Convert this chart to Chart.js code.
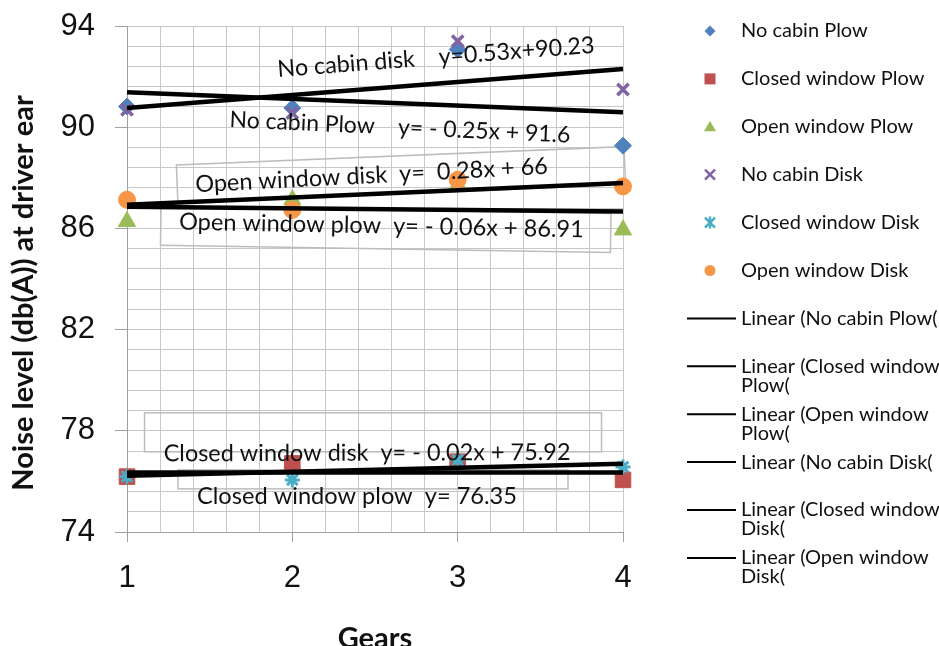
<!DOCTYPE html>
<html>
<head>
<meta charset="utf-8">
<script src="https://cdn.jsdelivr.net/npm/chart.js@4/dist/chart.umd.min.js"></script>
<style>
  html, body { margin: 0; padding: 0; background: #fff; }
  canvas { display: block; }
</style>
</head>
<body>
<canvas id="chart" width="939" height="646"></canvas>
<script>
// x axis: gears
const gears = [1, 2, 3, 4];
const xTicks = [1, 2, 3, 4];
const yTicks = [74, 78, 82, 86, 90, 94];

// noise level at driver ear, db(A)
const noCabinPlow = [90.82, 90.76, 93.07, 89.27];
const closedWindowPlow = [76.19, 76.71, 76.78, 76.06];
const openWindowPlow = [86.27, 87.13, 87.72, 85.94];
const noCabinDisk = [90.69, 90.56, 93.4, 91.49];
const closedWindowDisk = [76.19, 76.06, 76.85, 76.57];
const openWindowDisk = [87.13, 86.73, 87.92, 87.66];

// linear trend lines, value at gear 1 and gear 4 as drawn
const trendGears = [1, 4];
const trendNoCabinPlow = [91.38, 90.59];
const trendClosedWindowPlow = [76.35, 76.35];
const trendOpenWindowPlow = [86.86, 86.67];
const trendNoCabinDisk = [90.76, 92.3];
const trendClosedWindowDisk = [76.22, 76.7];
const trendOpenWindowDisk = [86.93, 87.79];

const seriesNames = ['No cabin Plow', 'Closed window Plow', 'Open window Plow',
  'No cabin Disk', 'Closed window Disk', 'Open window Disk'];
const trendNames = ['Linear (No cabin Plow(', 'Linear (Closed window Plow(', 'Linear (Open window Plow(',
  'Linear (No cabin Disk(', 'Linear (Closed window Disk(', 'Linear (Open window Disk('];

const seriesValues = [noCabinPlow, closedWindowPlow, openWindowPlow, noCabinDisk, closedWindowDisk, openWindowDisk];
const trendValues = [trendNoCabinPlow, trendClosedWindowPlow, trendOpenWindowPlow,
  trendNoCabinDisk, trendClosedWindowDisk, trendOpenWindowDisk];

// marker look for each series
const markers = [
  { style: 'rectRot', color: '#4F81BD', r: 8.5, bw: 1, lr: 5.5 },
  { style: 'rect', color: '#C0504D', r: 11, bw: 1, lr: 5.5 },
  { style: 'triangle', color: '#9BBB59', r: 10, bw: 1, lr: 6 },
  { style: 'crossRot', color: '#8064A2', r: 8, bw: 3.5, lr: 5 },
  { style: 'star', color: '#4BACC6', r: 7.5, bw: 3, lr: 5 },
  { style: 'circle', color: '#F79646', r: 8.5, bw: 1, lr: 5.5 }
];

// trend equation labels as they sit on the chart
const notes = [
  { text: 'No cabin disk    y=0.53x+90.23', gear: 2.869, db: 92.76, angle: -4.4, width: 318 },
  { text: 'No cabin Plow    y= - 0.25x + 91.6', gear: 2.651, db: 89.99, angle: 2.6, width: 341 },
  { text: 'Open window disk  y=  0.28x + 66', gear: 2.479, db: 88.09, angle: -3.0, width: 353 },
  { text: 'Open window plow  y= - 0.06x + 86.91', gear: 2.539, db: 86.10, angle: 1.1, width: 405 },
  { text: 'Closed window disk  y= - 0.02x + 75.92', gear: 2.452, db: 77.12, angle: -0.2, width: 407 },
  { text: 'Closed window plow  y= 76.35', gear: 2.391, db: 75.41, angle: 0, width: 320 }
];
const noteBoxes = [
  { gear: 2.657, db: 88.12, w: 448, h: 38, angle: -2.34 },
  { gear: 2.565, db: 85.96, w: 450, h: 39, angle: 0.93 },
  { gear: 2.488, db: 77.94, w: 457, h: 39, angle: 0 },
  { gear: 2.488, db: 76.08, w: 390, h: 19, angle: 0 }
];

const FONT = 'Lato, "Open Sans", sans-serif';
const isTick = (v, list) => list.some(t => Math.abs(t - v) < 1e-6);
const toPoints = (xs, ys) => xs.map((x, i) => ({ x: x, y: ys[i] }));

const datasets = [];
seriesValues.forEach((vals, i) => {
  const m = markers[i];
  datasets.push({
    label: seriesNames[i],
    data: toPoints(gears, vals),
    pointStyle: m.style,
    pointRadius: m.r,
    pointBorderWidth: m.bw,
    backgroundColor: m.color,
    borderColor: m.color,
    showLine: false,
    clip: false,
    order: 6 - i
  });
});
trendValues.forEach((vals, i) => {
  datasets.push({
    label: trendNames[i],
    data: toPoints(trendGears, vals),
    showLine: true,
    borderColor: '#000',
    borderWidth: 4.5,
    pointRadius: 0,
    clip: false,
    order: 0
  });
});

function drawMarker(ctx, style, x, y, h, color) {
  ctx.save();
  ctx.fillStyle = color;
  ctx.strokeStyle = color;
  ctx.beginPath();
  if (style === 'rectRot') {
    ctx.moveTo(x, y - h); ctx.lineTo(x + h, y); ctx.lineTo(x, y + h); ctx.lineTo(x - h, y);
    ctx.closePath(); ctx.fill();
  } else if (style === 'rect') {
    ctx.fillRect(x - h, y - h, 2 * h, 2 * h);
  } else if (style === 'triangle') {
    ctx.moveTo(x, y - h); ctx.lineTo(x + h, y + h * 0.75); ctx.lineTo(x - h, y + h * 0.75);
    ctx.closePath(); ctx.fill();
  } else if (style === 'circle') {
    ctx.arc(x, y, h, 0, Math.PI * 2); ctx.fill();
  } else {
    ctx.lineWidth = 2.5;
    ctx.moveTo(x - h, y - h); ctx.lineTo(x + h, y + h);
    ctx.moveTo(x + h, y - h); ctx.lineTo(x - h, y + h);
    if (style === 'star') { ctx.moveTo(x, y - h * 1.2); ctx.lineTo(x, y + h * 1.2); }
    ctx.stroke();
  }
  ctx.restore();
}

// legend at the right, drawn by hand so long names can wrap
const legendPlugin = {
  id: 'sideLegend',
  afterDraw(chart) {
    const ctx = chart.ctx;
    const rowTop = 31, rowStep = 47.9, textX = 741, maxW = 200;
    ctx.save();
    ctx.font = '20px ' + FONT;
    ctx.fillStyle = '#111';
    ctx.textBaseline = 'middle';
    chart.data.datasets.forEach((ds, i) => {
      const y = rowTop + i * rowStep;
      if (i < markers.length) {
        drawMarker(ctx, markers[i].style, 710, y, markers[i].lr, markers[i].color);
      } else {
        ctx.strokeStyle = '#000';
        ctx.lineWidth = 2;
        ctx.beginPath(); ctx.moveTo(687, y); ctx.lineTo(736, y); ctx.stroke();
      }
      // word wrap
      const words = ds.label.split(' ');
      const lines = [];
      let line = '';
      words.forEach(w => {
        const test = line ? line + ' ' + w : w;
        if (line && ctx.measureText(test).width > maxW) { lines.push(line); line = w; }
        else line = test;
      });
      lines.push(line);
      lines.forEach((l, k) => ctx.fillText(l, textX, y + k * 19));
    });
    ctx.restore();
  }
};

// equation labels, their boxes and the y axis title
const notesPlugin = {
  id: 'notes',
  beforeDatasetsDraw(chart) {
    const ctx = chart.ctx, xs = chart.scales.x, ys = chart.scales.y;
    ctx.save();
    ctx.strokeStyle = '#bdbdbd';
    ctx.lineWidth = 1.5;
    noteBoxes.forEach(b => {
      ctx.save();
      ctx.translate(xs.getPixelForValue(b.gear), ys.getPixelForValue(b.db));
      ctx.rotate(b.angle * Math.PI / 180);
      ctx.strokeRect(-b.w / 2, -b.h / 2, b.w, b.h);
      ctx.restore();
    });
    ctx.restore();
  },
  afterDatasetsDraw(chart) {
    const ctx = chart.ctx, xs = chart.scales.x, ys = chart.scales.y;
    ctx.save();
    ctx.fillStyle = '#111';
    ctx.textAlign = 'center';
    ctx.textBaseline = 'middle';
    notes.forEach(n => {
      ctx.font = '24px ' + FONT;
      const size = 24 * n.width / ctx.measureText(n.text).width;
      ctx.font = size.toFixed(2) + 'px ' + FONT;
      ctx.save();
      ctx.translate(xs.getPixelForValue(n.gear), ys.getPixelForValue(n.db));
      ctx.rotate(n.angle * Math.PI / 180);
      ctx.fillText(n.text, 0, 0);
      ctx.restore();
    });
    // y axis title
    ctx.font = 'bold 29px ' + FONT;
    ctx.translate(24, 293);
    ctx.rotate(-Math.PI / 2);
    ctx.fillText('Noise level (db(A)) at driver ear', 0, 0, 398);
    ctx.restore();
  }
};

new Chart(document.getElementById('chart'), {
  type: 'scatter',
  data: { datasets: datasets },
  options: {
    responsive: false,
    animation: false,
    devicePixelRatio: 1,
    layout: { padding: { top: 26, right: 316, bottom: 0, left: 0 } },
    plugins: { legend: { display: false }, tooltip: { enabled: false } },
    scales: {
      x: {
        type: 'linear', min: 1, max: 4,
        afterFit: s => { s.height = 114; s.paddingLeft = 0; s.paddingRight = 0; },
        ticks: {
          stepSize: 0.2, autoSkip: false, maxRotation: 0, padding: 18, color: '#111',
          font: { family: '"Liberation Sans", Arial, sans-serif', size: 31 },
          callback: v => isTick(v, xTicks) ? String(Math.round(v)) : ''
        },
        grid: {
          color: '#c8c8c8', tickLength: 10,
          tickColor: c => isTick(c.tick.value, xTicks) ? '#a0a0a0' : 'rgba(0,0,0,0)'
        },
        border: { color: '#a0a0a0' },
        title: {
          display: true, text: 'Gears', color: '#111',
          font: { family: FONT, size: 29, weight: 'bold' },
          padding: { top: 0, bottom: -10 }
        }
      },
      y: {
        type: 'linear', min: 74, max: 94,
        afterFit: s => { s.width = 127; s.paddingTop = 0; s.paddingBottom = 0; },
        ticks: {
          stepSize: 0.8, autoSkip: false, padding: 20, color: '#111',
          font: { family: '"Liberation Sans", Arial, sans-serif', size: 31 },
          callback: v => isTick(v, yTicks) ? String(Math.round(v)) : ''
        },
        grid: {
          color: '#c8c8c8', tickLength: 12,
          tickColor: c => isTick(c.tick.value, yTicks) ? '#a0a0a0' : 'rgba(0,0,0,0)'
        },
        border: { color: '#a0a0a0' }
      }
    }
  },
  plugins: [notesPlugin, legendPlugin]
});
</script>
</body>
</html>
